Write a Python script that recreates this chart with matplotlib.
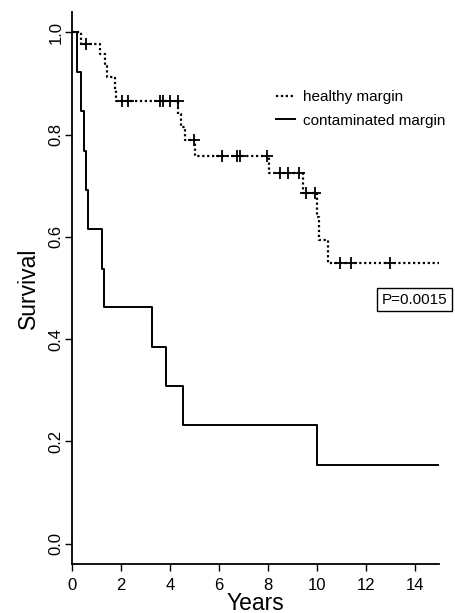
import numpy as np
import matplotlib
matplotlib.use("Agg")
import matplotlib.pyplot as plt

plt.rcParams['font.family'] = ['Liberation Sans', 'DejaVu Sans']

# Healthy margin (dotted) KM curve
times_h = [0, 0.37, 1.15, 1.35, 1.45, 1.75, 1.8, 4.35, 4.45, 4.6, 5.02, 8.05, 9.43, 10.0, 10.1, 10.45, 15]
surv_h = [1.0, 0.978, 0.957, 0.935, 0.912, 0.889, 0.866, 0.841, 0.815, 0.789, 0.759, 0.725, 0.686, 0.639, 0.593, 0.548, 0.548]
censor_h = [0.57, 2.05, 2.3, 3.6, 3.7, 4.0, 4.32, 4.98, 6.14, 6.76, 6.88, 7.98, 8.5, 8.83, 9.29, 9.55, 9.93, 10.95, 11.4, 12.98]

# Contaminated margin (solid) KM curve
times_c = [0, 0.2, 0.37, 0.49, 0.57, 0.66, 1.22, 1.3, 3.27, 3.85, 4.54, 10.0, 15]
surv_c = [1.0, 0.923, 0.846, 0.769, 0.692, 0.615, 0.538, 0.462, 0.385, 0.308, 0.231, 0.154, 0.154]

labels = ["healthy margin", "contaminated margin"]
xticks = [0, 2, 4, 6, 8, 10, 12, 14]
yticks = [0.0, 0.2, 0.4, 0.6, 0.8, 1.0]
p_text = "P=0.0015"

fig = plt.figure(figsize=(4.55, 6.13), dpi=100)
ax = fig.add_axes([72/455, 49/613, 367/455, 552/613])

def step_value(times, surv, t):
    idx = np.searchsorted(times, t, side='right') - 1
    return np.asarray(surv)[idx]

ax.step(times_h, surv_h, where='post', color='black', linestyle=(0, (1, 1.2)), lw=1.6, label=labels[0])
ax.step(times_c, surv_c, where='post', color='black', linestyle='-', lw=1.4, label=labels[1])
ax.plot(censor_h, step_value(times_h, surv_h, censor_h), linestyle='none', marker='+',
        color='black', markersize=8, markeredgewidth=1.3)

ax.set_xlim(0, 15)
ax.set_ylim(-0.04, 1.04)
ax.set_xticks(xticks)
ax.set_yticks(yticks)
ax.set_yticklabels([f"{v:.1f}" for v in yticks], rotation=90, va='center')
ax.tick_params(direction='out', length=5, width=1, labelsize=12, color='black')
ax.tick_params(axis='x', pad=5)
ax.tick_params(axis='y', pad=1)
for s in ['top', 'right']:
    ax.spines[s].set_visible(False)
for s in ['left', 'bottom']:
    ax.spines[s].set_linewidth(1.3)

ax.set_xlabel("Years", fontsize=16.5, labelpad=-1)
ax.set_ylabel("Survival", fontsize=16.5, labelpad=6)

leg = ax.legend(loc='upper left', bbox_to_anchor=(0.555, 0.858), frameon=False,
                fontsize=11, handlelength=1.25, handletextpad=0.55, labelspacing=0.6,
                borderpad=0, borderaxespad=0)

ax.text(14.0, 0.477, p_text, fontsize=11, ha='center', va='center',
        bbox=dict(boxstyle='square,pad=0.3', facecolor='white', edgecolor='black', lw=1.0),
        clip_on=False)

fig.savefig("out.png", dpi=100)
